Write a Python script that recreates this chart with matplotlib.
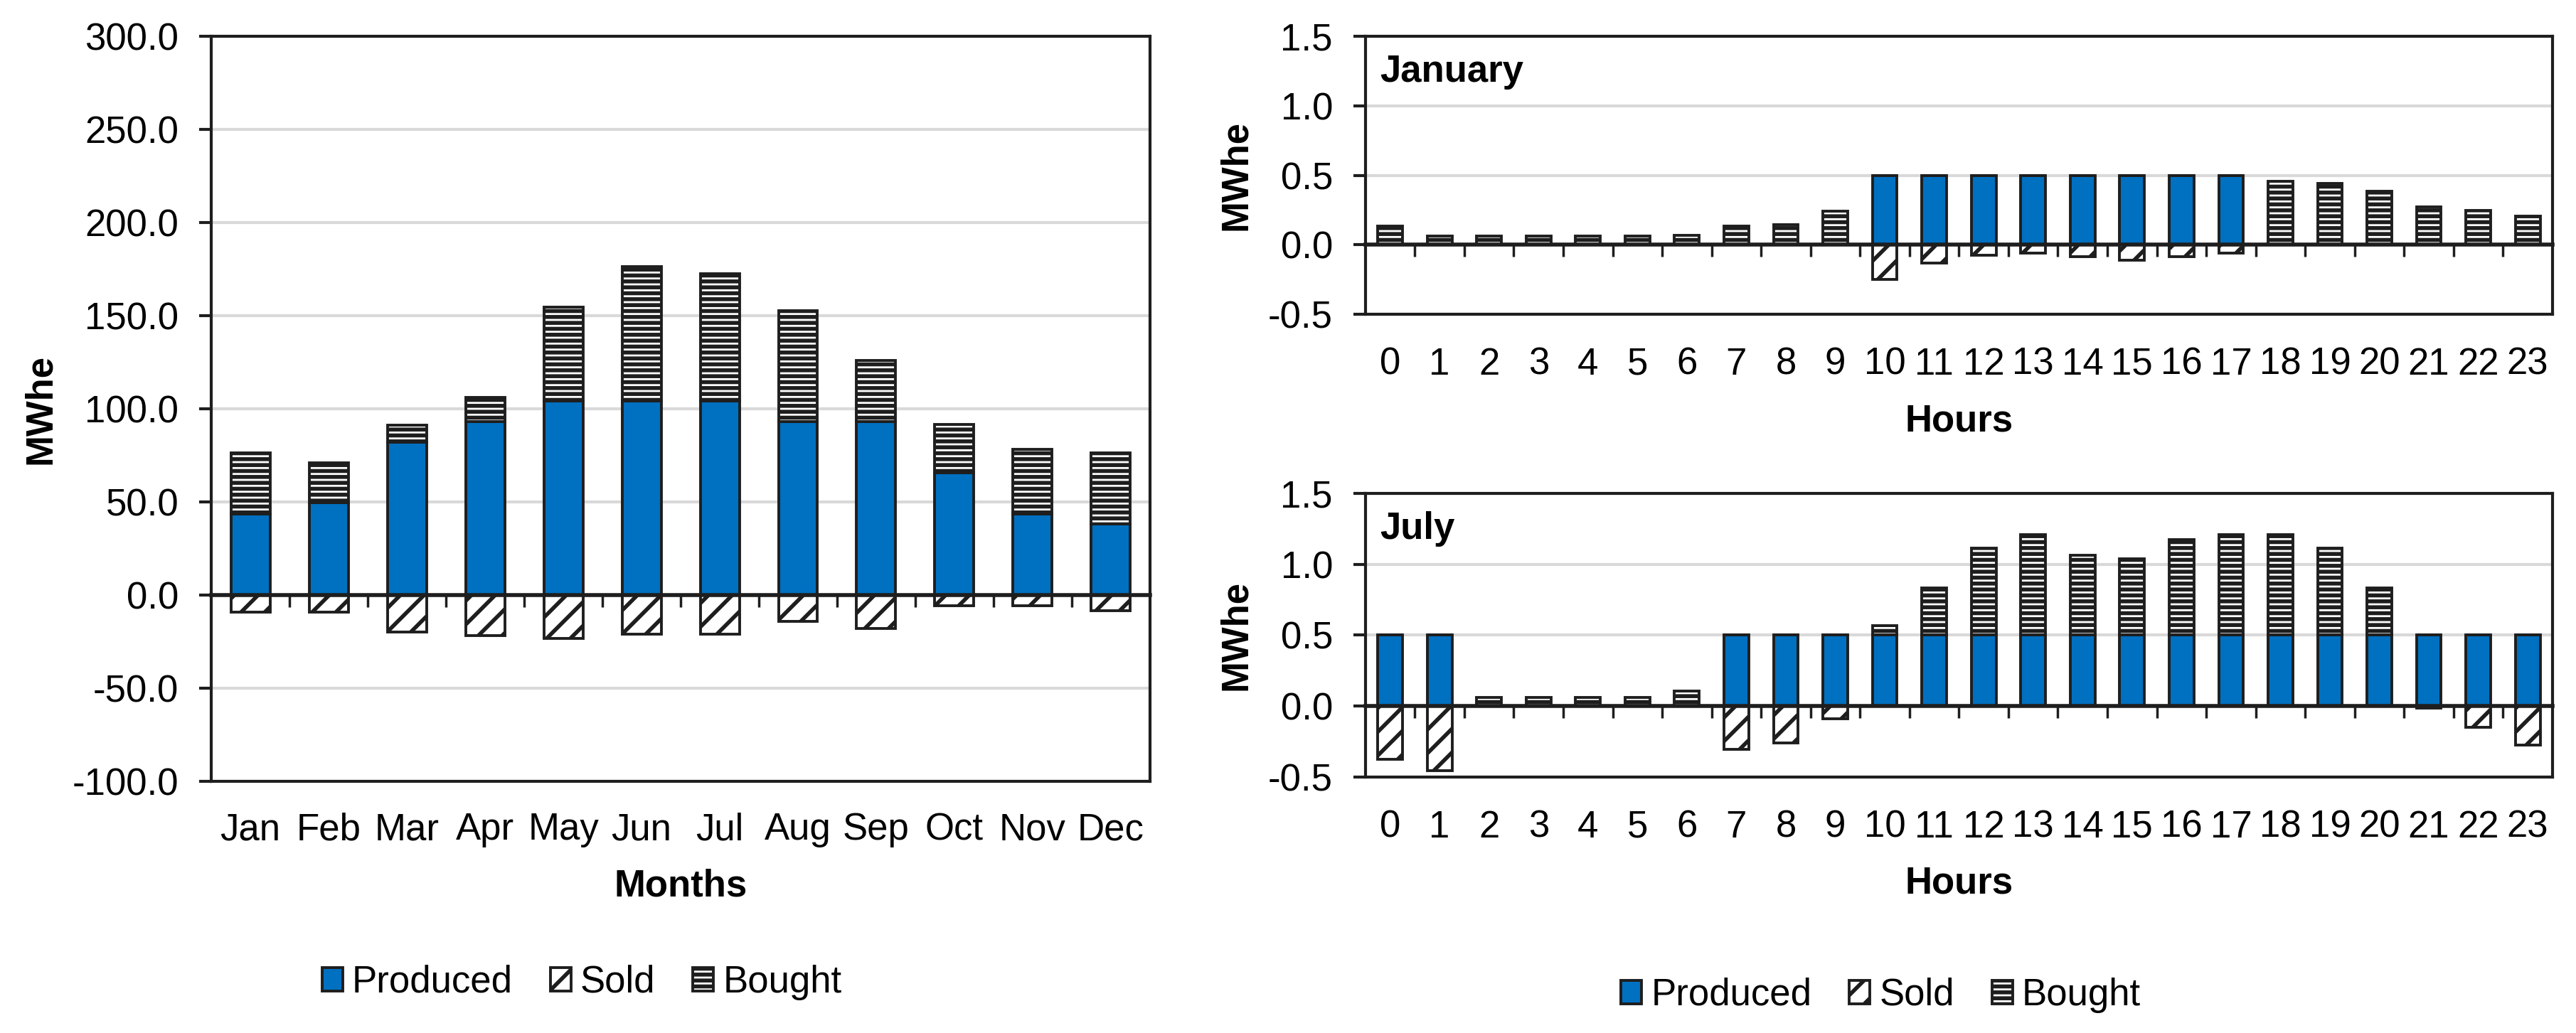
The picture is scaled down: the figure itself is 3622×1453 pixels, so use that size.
import numpy as np
import matplotlib.pyplot as plt
from matplotlib.ticker import FormatStrFormatter, MultipleLocator

plt.rcParams['font.family'] = ['Liberation Sans', 'DejaVu Sans']
plt.rcParams['font.size'] = 38
plt.rcParams['hatch.linewidth'] = 4.0

# monthly energy balance (MWhe)
months = ['Jan', 'Feb', 'Mar', 'Apr', 'May', 'Jun', 'Jul', 'Aug', 'Sep', 'Oct', 'Nov', 'Dec']
month_produced = [43.5, 49.7, 82.2, 93.2, 104.3, 104.3, 104.3, 93.2, 93.2, 65.6, 43.5, 38.0]
month_bought = [33.0, 21.2, 9.2, 12.8, 50.4, 72.2, 68.2, 59.5, 32.8, 26.0, 34.8, 38.4]
month_sold = [-9.3, -9.3, -20.0, -21.6, -23.3, -21.0, -21.0, -14.1, -18.0, -5.7, -5.7, -8.4]

# hourly balance, typical days (MWhe)
hours = [str(h) for h in range(24)]
jan_produced = [0, 0, 0, 0, 0, 0, 0, 0, 0, 0,
                0.5, 0.5, 0.5, 0.5, 0.5, 0.5, 0.5, 0.5,
                0, 0, 0, 0, 0, 0]
jan_bought = [0.136, 0.062, 0.062, 0.062, 0.062, 0.062, 0.07, 0.132, 0.145, 0.243,
              0, 0, 0, 0, 0, 0, 0, 0,
              0.457, 0.44, 0.383, 0.274, 0.245, 0.204]
jan_sold = [0, 0, 0, 0, 0, 0, 0, 0, 0, 0,
            -0.249, -0.132, -0.074, -0.06, -0.085, -0.11, -0.085, -0.06,
            0, 0, 0, 0, 0, 0]

jul_produced = [0.5, 0.5, 0, 0, 0, 0, 0, 0.5, 0.5, 0.5, 0.5, 0.5,
                0.5, 0.5, 0.5, 0.5, 0.5, 0.5, 0.5, 0.5, 0.5, 0.5, 0.5, 0.5]
jul_bought = [0, 0, 0.062, 0.062, 0.062, 0.062, 0.108, 0, 0, 0, 0.068, 0.332,
              0.612, 0.71, 0.566, 0.539, 0.676, 0.71, 0.71, 0.612, 0.332, 0, 0, 0]
jul_sold = [-0.373, -0.456, 0, 0, 0, 0, 0, -0.307, -0.259, -0.089, 0, 0,
            0, 0, 0, 0, 0, 0, 0, 0, 0, -0.015, -0.151, -0.274]

blue = '#0070C0'
dark = '#1E1E1E'
grid_c = '#D9D9D9'


def stacked(ax, labels, produced, bought, sold, ymin, ymax, step, fmt, xpad):
    x = np.arange(len(labels))
    w = 0.5
    p = ax.bar(x, produced, w, color=blue, edgecolor=dark, lw=2.8, label='Produced', zorder=2)
    s = ax.bar(x, sold, w, color='white', edgecolor=dark, lw=2.8, hatch='/', label='Sold', zorder=2)
    b = ax.bar(x, bought, w, bottom=produced, color='white', edgecolor=dark, lw=2.8,
               hatch='--', label='Bought', zorder=2)

    ax.set_xlim(-0.5, len(labels) - 0.5)
    ax.set_ylim(ymin, ymax)
    ax.yaxis.set_major_locator(MultipleLocator(step))
    ax.yaxis.set_major_formatter(FormatStrFormatter(fmt))
    ax.set_xticks(x)
    ax.set_xticklabels(labels)
    ax.tick_params(axis='x', length=0, pad=xpad)
    ax.tick_params(axis='y', length=12, width=3, color=dark, pad=21)
    ax.yaxis.grid(True, color=grid_c, lw=3)
    ax.set_axisbelow(True)
    for sp in ax.spines.values():
        sp.set_color(dark)
        sp.set_linewidth(3)

    # category axis crossing at zero, with tick marks between bars
    zero = (0 - ymin) / (ymax - ymin)
    sec = ax.secondary_xaxis(zero)
    sec.set_xticks(x[:-1] + 0.5)
    sec.tick_params(axis='x', length=12, width=2.5, color=dark, labelbottom=False, labeltop=False)
    sec.spines['bottom'].set_color(dark)
    sec.spines['bottom'].set_linewidth(4)
    sec.set_zorder(3)
    return p, s, b


fig = plt.figure(figsize=(36.23, 14.53), dpi=100)

ax1 = fig.add_axes([0.0820, 0.2436, 0.3643, 0.7213])
handles = stacked(ax1, months, month_produced, month_bought, month_sold, -100, 300, 50, '%.1f', 31)
ax1.set_xlabel('Months', fontweight='bold')
ax1.xaxis.set_label_coords(0.5, -0.117)
ax1.set_ylabel('MWhe', fontweight='bold')
ax1.yaxis.set_label_coords(-0.163, 0.5)

ax2 = fig.add_axes([0.5299, 0.6958, 0.4607, 0.2691])
stacked(ax2, hours, jan_produced, jan_bought, jan_sold, -0.5, 1.5, 0.5, '%.1f', 33)
ax2.set_xlabel('Hours', fontweight='bold')
ax2.xaxis.set_label_coords(0.5, -0.320)
ax2.set_ylabel('MWhe', fontweight='bold')
ax2.yaxis.set_label_coords(-0.094, 0.5)
ax2.annotate('January', xy=(0, 1), xycoords='axes fraction', xytext=(15, -18),
             textcoords='offset points', ha='left', va='top', fontweight='bold')

ax3 = fig.add_axes([0.5299, 0.2478, 0.4607, 0.2746])
stacked(ax3, hours, jul_produced, jul_bought, jul_sold, -0.5, 1.5, 0.5, '%.1f', 33)
ax3.set_xlabel('Hours', fontweight='bold')
ax3.xaxis.set_label_coords(0.5, -0.311)
ax3.set_ylabel('MWhe', fontweight='bold')
ax3.yaxis.set_label_coords(-0.094, 0.5)
ax3.annotate('July', xy=(0, 1), xycoords='axes fraction', xytext=(15, -18),
             textcoords='offset points', ha='left', va='top', fontweight='bold')

leg_kw = dict(loc='center', ncol=3, frameon=False, handlelength=0.55, handleheight=0.6,
              handletextpad=0.25, columnspacing=1.0, borderpad=0)
fig.legend(handles, ['Produced', 'Sold', 'Bought'], bbox_to_anchor=(0.2258, 0.0489), **leg_kw)
fig.legend(handles, ['Produced', 'Sold', 'Bought'], bbox_to_anchor=(0.730, 0.0365), **leg_kw)

fig.savefig('out.png', dpi=100)
